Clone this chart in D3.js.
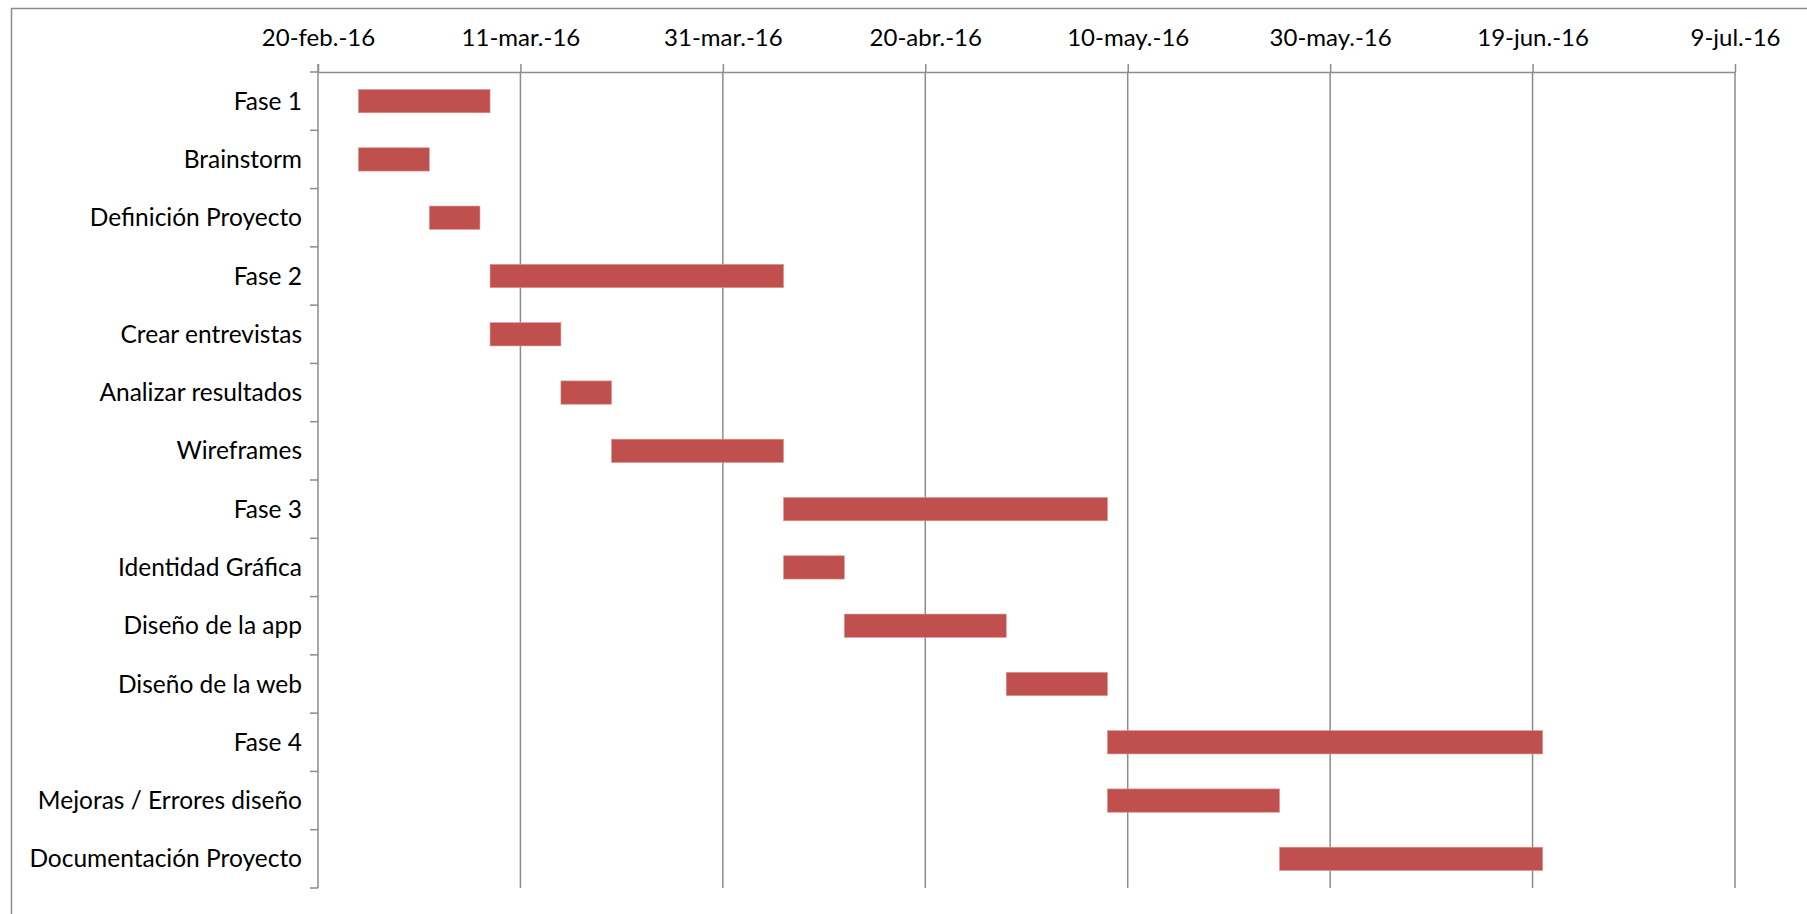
<!DOCTYPE html>
<html>
<head>
<meta charset="utf-8">
<script src="https://cdn.jsdelivr.net/npm/d3@7"></script>
<style>
  html, body { margin: 0; padding: 0; background: #fff; }
  svg { display: block; }
  text { font-family: Lato, "Open Sans", sans-serif; fill: #000; }
</style>
</head>
<body>
<div id="chart"></div>
<script>
// Data
const tasks = [
  "Fase 1", "Brainstorm", "Definición Proyecto",
  "Fase 2", "Crear entrevistas", "Analizar resultados", "Wireframes",
  "Fase 3", "Identidad Gráfica", "Diseño de la app", "Diseño de la web",
  "Fase 4", "Mejoras / Errores diseño", "Documentación Proyecto"
];
const startDates = [
  "2016-02-24", "2016-02-24", "2016-03-02",
  "2016-03-08", "2016-03-08", "2016-03-15", "2016-03-20",
  "2016-04-06", "2016-04-06", "2016-04-12", "2016-04-28",
  "2016-05-08", "2016-05-08", "2016-05-25"
];
const endDates = [
  "2016-03-08", "2016-03-02", "2016-03-07",
  "2016-04-06", "2016-03-15", "2016-03-20", "2016-04-06",
  "2016-05-08", "2016-04-12", "2016-04-28", "2016-05-08",
  "2016-06-20", "2016-05-25", "2016-06-20"
];
const tickDates = [
  "2016-02-20", "2016-03-11", "2016-03-31", "2016-04-20",
  "2016-05-10", "2016-05-30", "2016-06-19", "2016-07-09"
];
const tickLabels = [
  "20-feb.-16", "11-mar.-16", "31-mar.-16", "20-abr.-16",
  "10-may.-16", "30-may.-16", "19-jun.-16", "9-jul.-16"
];

const width = 1807, height = 914;
const margin = { top: 72, left: 318, bottom: 26, right: 72 };
const innerWidth = width - margin.left - margin.right,
      innerHeight = height - margin.top - margin.bottom;

const parse = d3.utcParse("%Y-%m-%d");
const rows = tasks.map((t, i) => ({ name: t, start: parse(startDates[i]), end: parse(endDates[i]) }));
const ticks = tickDates.map(parse);

const svg = d3.select("#chart").append("svg")
    .attr("width", width)
    .attr("height", height);

// Outer frame (runs off the right and bottom edges)
svg.append("path")
    .attr("d", "M11.5," + height + "V8.5H" + width)
    .style("fill", "none")
    .style("stroke", "#8c8c8c")
    .style("stroke-width", 1.5);

const g = svg.append("g")
    .attr("transform", "translate(" + margin.left + "," + margin.top + ")");

// Scales
const xScale = d3.scaleUtc()
    .domain([ticks[0], ticks[ticks.length - 1]])
    .range([0, innerWidth]);

const yScale = d3.scaleBand()
    .domain(tasks)
    .range([0, innerHeight])
    .paddingInner(0.6)
    .paddingOuter(0.3);

const rowScale = d3.scaleBand()
    .domain(tasks)
    .range([0, innerHeight]);

const lineColor = "#8c8c8c";

// Grid lines
g.append("g").attr("class", "grid")
  .selectAll("line")
    .data(ticks.slice(1))
  .enter().append("line")
    .attr("x1", d => xScale(d)).attr("x2", d => xScale(d))
    .attr("y1", 0).attr("y2", innerHeight)
    .style("stroke", lineColor)
    .style("stroke-width", 1.5);

// Bars
g.append("g").attr("class", "bars")
  .selectAll("rect")
    .data(rows)
  .enter().append("rect")
    .attr("x", d => xScale(d.start))
    .attr("width", d => xScale(d.end) - xScale(d.start))
    .attr("y", d => yScale(d.name))
    .attr("height", yScale.bandwidth())
    .style("fill", "#c0504d")
    .style("stroke", "#d99694")
    .style("stroke-width", 0.6);

// Top axis
const xAxis = d3.axisTop(xScale)
    .tickValues(ticks)
    .tickFormat((d, i) => tickLabels[i])
    .tickSize(8)
    .tickSizeOuter(0)
    .tickPadding(18);

const gX = g.append("g").attr("class", "xAxis").call(xAxis);
gX.select(".domain").style("stroke", lineColor).style("stroke-width", 1.5);
gX.selectAll(".tick line").style("stroke", lineColor).style("stroke-width", 1.5);
gX.selectAll(".tick text")
    .style("font-size", "24px")
    .style("font-family", "Lato, 'Open Sans', sans-serif")
    .style("fill", "#000");

// Left axis with ticks at row boundaries
const gY = g.append("g").attr("class", "yAxis");
gY.append("line")
    .attr("x1", 0).attr("x2", 0)
    .attr("y1", -8).attr("y2", innerHeight)
    .style("stroke", lineColor)
    .style("stroke-width", 1.5);

gY.selectAll(".rowTick")
    .data(tasks.map(t => rowScale(t)).concat([innerHeight]))
  .enter().append("line")
    .attr("class", "rowTick")
    .attr("x1", -8).attr("x2", 0)
    .attr("y1", d => d).attr("y2", d => d)
    .style("stroke", lineColor)
    .style("stroke-width", 1.5);

gY.selectAll(".label")
    .data(tasks)
  .enter().append("text")
    .attr("class", "label")
    .attr("x", -16)
    .attr("y", d => rowScale(d) + rowScale.bandwidth() / 2)
    .attr("dy", "0.35em")
    .attr("text-anchor", "end")
    .style("font-size", "24.5px")
    .text(d => d);
</script>
</body>
</html>
